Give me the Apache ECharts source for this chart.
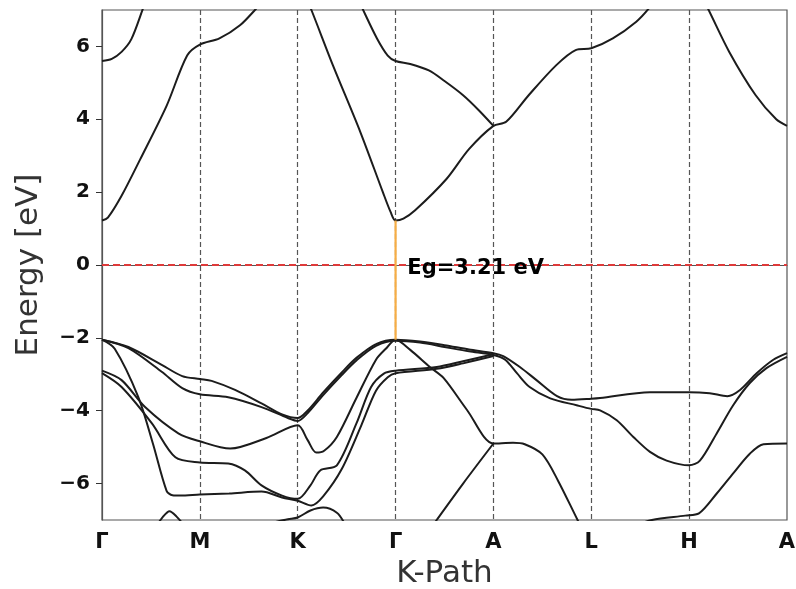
<!DOCTYPE html>
<html>
<head>
<meta charset="utf-8">
<script src="https://cdn.jsdelivr.net/npm/echarts@6/dist/echarts.min.js"></script>
<style>
  html, body { margin: 0; padding: 0; background: #fff; }
  #chart { width: 796px; height: 589px; }
</style>
</head>
<body>
<div id="chart"></div>
<script>
// k-path ticks and energy ticks
const kLabels = ["Γ", "M", "K", "Γ", "A", "L", "H", "A"];
const yTicks = [-6, -4, -2, 0, 2, 4, 6];

// conduction bands [k, E]
const cb1a = [[0,1.22],[0.06,1.3],[0.2,1.9],[0.39,2.9],[0.66,4.37],[0.87,5.75],[1,6.05],[1.2,6.22],[1.41,6.58],[1.58,7.05],[1.7,7.4]];
const cb1b = [[2.06,7.5],[2.14,7.0],[2.36,5.48],[2.64,3.65],[2.87,2.0],[2.95,1.45],[3,1.22],[3.08,1.27],[3.2,1.5],[3.52,2.36],[3.75,3.18],[4,3.82],[4.13,3.93],[4.36,4.66],[4.64,5.48],[4.84,5.9],[5,5.95],[5.22,6.22],[5.46,6.68],[5.59,7.05],[5.68,7.4]];
const cb1c = [[6.1,7.5],[6.19,7.05],[6.41,5.85],[6.68,4.66],[6.89,4.0],[7,3.82]];
const cb2a = [[0,5.6],[0.1,5.66],[0.2,5.85],[0.3,6.2],[0.42,7.05],[0.46,7.35]];
const cb2b = [[2.6,7.4],[2.66,7.05],[2.81,6.22],[2.92,5.75],[3,5.6],[3.15,5.52],[3.34,5.34],[3.5,5.05],[3.69,4.66],[3.85,4.25],[4,3.82]];

// valence bands [k, E]
const vb1 = [[0,-2.05],[0.27,-2.25],[0.61,-2.74],[0.82,-3.05],[1,-3.13],[1.12,-3.18],[1.36,-3.43],[1.63,-3.8],[1.84,-4.1],[2,-4.2],[2.1,-4.0],[2.26,-3.5],[2.45,-2.95],[2.6,-2.55],[2.8,-2.17],[3,-2.05],[3.25,-2.1],[3.5,-2.2],[3.75,-2.32],[4,-2.42],[4.1,-2.5],[4.27,-2.8],[4.44,-3.16],[4.65,-3.6],[4.8,-3.7],[5,-3.67],[5.09,-3.65],[5.6,-3.49],[6,-3.49],[6.21,-3.52],[6.39,-3.6],[6.52,-3.43],[6.69,-2.97],[6.86,-2.6],[7,-2.42]];
const vb2 = [[0,-2.05],[0.27,-2.28],[0.61,-2.93],[0.82,-3.38],[1,-3.55],[1.29,-3.63],[1.63,-3.9],[1.9,-4.2],[2,-4.28],[2.1,-4.07],[2.26,-3.57],[2.45,-3.02],[2.6,-2.62],[2.8,-2.22],[3,-2.08],[3.25,-2.13],[3.5,-2.25],[3.75,-2.37],[4,-2.47],[4.12,-2.6],[4.24,-2.97],[4.37,-3.35],[4.58,-3.66],[4.85,-3.85],[5,-3.95],[5.09,-3.99],[5.26,-4.26],[5.43,-4.72],[5.6,-5.13],[5.77,-5.37],[6,-5.5],[6.11,-5.37],[6.28,-4.63],[6.45,-3.85],[6.62,-3.24],[6.79,-2.83],[7,-2.52]];
const vb3 = [[0,-2.05],[0.13,-2.3],[0.37,-3.62],[0.52,-4.9],[0.66,-6.2],[0.72,-6.32],[0.8,-6.33],[1,-6.3],[1.3,-6.27],[1.63,-6.22],[1.84,-6.38],[2,-6.47],[2.14,-6.6],[2.26,-6.35],[2.45,-5.6],[2.65,-4.4],[2.8,-3.45],[2.92,-3.08],[3,-2.97],[3.42,-2.85],[3.69,-2.7],[4,-2.5]];
const vb4 = [[0,-2.9],[0.2,-3.16],[0.44,-3.9],[0.78,-4.62],[1,-4.84],[1.31,-5.04],[1.68,-4.75],[2,-4.4],[2.1,-4.8],[2.19,-5.15],[2.27,-5.1],[2.4,-4.72],[2.6,-3.65],[2.8,-2.6],[2.9,-2.3],[3,-2.05],[3.15,-2.33],[3.35,-2.8],[3.49,-3.1],[3.73,-3.98],[4,-4.9],[4.2,-4.88],[4.32,-4.92],[4.5,-5.2],[4.66,-5.92],[4.86,-7.0],[4.92,-7.3]];
const vb5 = [[0,-2.97],[0.2,-3.35],[0.51,-4.35],[0.75,-5.28],[1,-5.42],[1.29,-5.45],[1.46,-5.64],[1.63,-6.05],[1.84,-6.33],[2,-6.42],[2.13,-6.05],[2.23,-5.64],[2.4,-5.5],[2.6,-4.35],[2.75,-3.35],[2.88,-2.98],[3,-2.9],[3.42,-2.8],[3.69,-2.64],[4,-2.45]];
const vb6 = [[3.38,-7.15],[3.42,-7.0],[3.69,-6.0],[4,-4.9]];
const vb7 = [[5.4,-7.2],[5.62,-7.0],[5.96,-6.88],[6.1,-6.82],[6.28,-6.28],[6.45,-5.72],[6.62,-5.18],[6.76,-4.92],[7,-4.9]];
const vb8 = [[0.56,-7.15],[0.62,-6.92],[0.69,-6.76],[0.76,-6.9],[0.84,-7.15]];
const vb9 = [[1.7,-7.1],[1.9,-6.98],[2,-6.93],[2.13,-6.74],[2.26,-6.66],[2.4,-6.8],[2.48,-7.1]];

// gap marker and Fermi level
const gapLine = [[3,-2.05],[3,1.22]];
const gapText = [[3.11,-0.1]];
const fermi = [[0,0],[7,0]];

const bands = [cb1a, cb1b, cb1c, cb2a, cb2b, vb1, vb2, vb3, vb4, vb5, vb6, vb7, vb8, vb9];
const FONT = "DejaVu Sans";

const chart = echarts.init(document.getElementById("chart"));

const bandSeries = bands.map(d => ({
  type: "line", data: d, showSymbol: false, smooth: 0.3, silent: true,
  lineStyle: { color: "#1c1c1c", width: 2 }, z: 3
}));

chart.setOption({
  animation: false,
  backgroundColor: "#fff",
  grid: { left: 102, right: 9, top: 10, bottom: 69, outerBoundsMode: "none",
    show: true, borderColor: "#555", borderWidth: 1.2 },
  xAxis: {
    type: "value", min: 0, max: 7, interval: 1,
    name: "K-Path", nameLocation: "middle", nameGap: 38,
    nameTextStyle: { fontFamily: FONT, fontSize: 31, color: "#333" },
    axisLine: { show: true, lineStyle: { color: "#555", width: 1.2 } },
    axisTick: { show: false },
    axisLabel: { formatter: v => kLabels[v], fontFamily: FONT, fontWeight: "bold", fontSize: 21, color: "#111", margin: 12 },
    splitLine: { show: true, showMinLine: false, showMaxLine: false, lineStyle: { color: "#555", width: 1.2, type: [5, 3] } }
  },
  yAxis: {
    type: "value", min: -7, max: 7,
    name: "Energy [eV]", nameLocation: "middle", nameGap: 58,
    nameTextStyle: { fontFamily: FONT, fontSize: 31, color: "#333" },
    axisLine: { show: true, lineStyle: { color: "#555", width: 1.2 } },
    axisTick: { show: true, length: 6, customValues: yTicks, lineStyle: { color: "#333" } },
    axisLabel: { customValues: yTicks, formatter: v => String(v).replace("-", "\u2212"),
      fontFamily: FONT, fontWeight: "bold", fontSize: 20, color: "#111", margin: 12 },
    splitLine: { show: false }
  },
  series: [
    { type: "line", data: fermi, showSymbol: false, silent: true, z: 4,
      lineStyle: { color: "#de3a3a", width: 2, type: [7, 4] } },
    ...bandSeries,
    { type: "line", data: gapLine, showSymbol: false, silent: true, z: 4,
      lineStyle: { color: "#f6ad45", width: 2.2 } },
    { type: "scatter", data: gapText, symbolSize: 2, itemStyle: { color: "rgba(0,0,0,0)" }, silent: true, z: 5,
      label: { show: true, position: "right", distance: 0, formatter: "Eg=3.21 eV", opacity: 1,
        fontFamily: FONT, fontWeight: "bold", fontSize: 21, color: "#000" } }
  ]
});
</script>
</body>
</html>
